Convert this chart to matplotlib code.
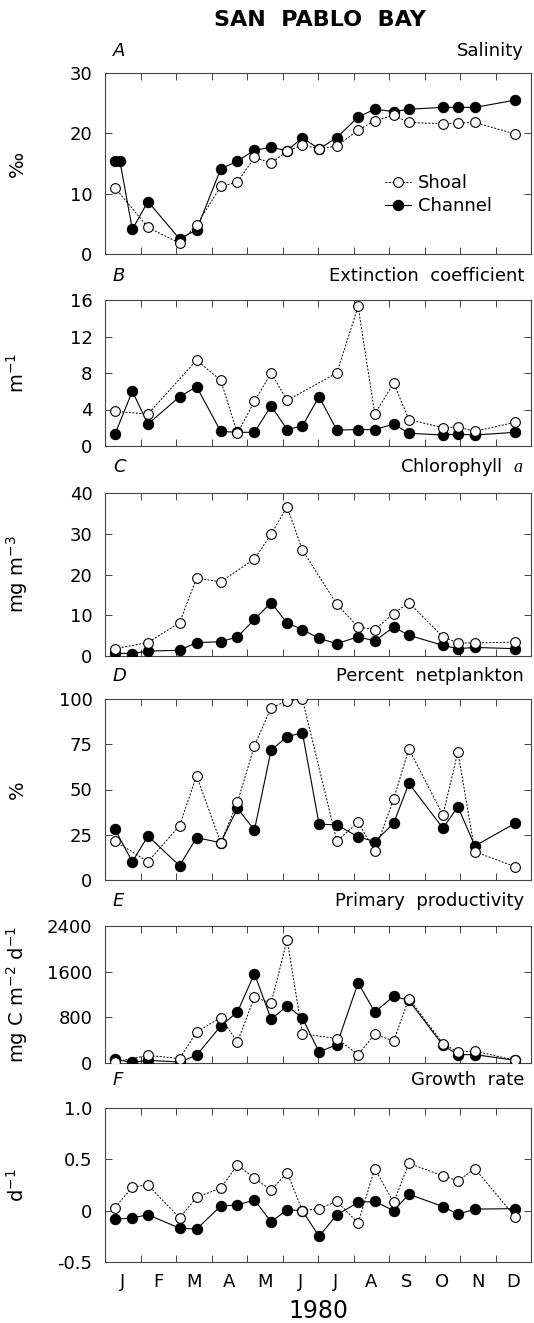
import numpy as np
import matplotlib
matplotlib.use("Agg")
import matplotlib.pyplot as plt
from matplotlib import rcParams

rcParams["font.family"] = ["DejaVu Sans"]
rcParams["mathtext.fontset"] = "custom"
rcParams["mathtext.rm"] = "DejaVu Sans"
rcParams["mathtext.it"] = "Liberation Serif:italic"
rcParams["mathtext.default"] = "regular"

nan = np.nan

# sampling dates, months since 1 Jan 1980
dates = [0.28, 0.42, 0.77, 1.21, 2.10, 2.58, 3.26, 3.73, 4.21, 4.68, 5.13,
         5.56, 6.03, 6.53, 7.13, 7.60, 8.13, 8.56, 9.52, 9.94, 10.42, 11.55]

salinity_shoal = [11.0, nan, nan, 4.4, 1.8, 4.8, 11.2, 11.9, 16.0, 15.1, 17.0,
                  18.1, 17.4, 17.9, 20.5, 22.1, 23.0, 21.8, 21.6, 21.7, 21.8, 19.9]
salinity_channel = [15.4, 15.4, 4.1, 8.7, 2.5, 4.0, 14.1, 15.4, 17.2, 17.7, 17.1,
                    19.3, 17.4, 19.3, 22.7, 24.0, 23.6, 24.0, 24.3, 24.3, 24.3, 25.5]

extinction_shoal = [3.8, nan, nan, 3.5, nan, 9.4, 7.2, 1.4, 4.9, 8.0, 5.0,
                    nan, nan, 8.0, 15.3, 3.5, 6.9, 2.9, 2.0, 2.1, 1.6, 2.6]
extinction_channel = [1.3, nan, 6.0, 2.4, 5.4, 6.5, 1.6, 1.5, 1.5, 4.4, 1.8,
                      2.2, 5.4, 1.75, 1.8, 1.8, 2.4, 1.4, 1.2, 1.3, 1.2, 1.5]

chl_shoal = [1.8, nan, nan, 3.3, 8.2, 19.1, 18.2, nan, 23.8, 29.9, 36.6,
             26.0, nan, 12.7, 7.1, 6.5, 10.4, 13.1, 4.7, 3.2, 3.2, 3.4]
chl_channel = [0.7, nan, 0.6, 1.2, 1.4, 3.3, 3.5, 4.7, 9.0, 13.1, 8.1,
               6.5, 4.3, 3.05, 4.7, 3.7, 7.1, 5.1, 2.6, 1.8, 2.1, 1.8]

netplankton_shoal = [21.5, nan, nan, 10.1, 30.0, 57.6, 20.6, 42.9, 74.2, 95.2, 98.9,
                     100.0, nan, 21.5, 31.9, 16.0, 44.6, 72.4, 35.9, 70.9, 15.6, 7.4]
netplankton_channel = [28.0, nan, 10.1, 24.3, 7.9, 23.4, 20.6, 39.6, 27.6, 71.8, 79.2,
                       81.4, 30.9, 30.4, 23.9, 21.2, 31.3, 53.4, 28.6, 40.5, 18.8, 31.3]

productivity_shoal = [18, nan, nan, 135, 77, 543, 795, 368, 1156, 1045, 2162,
                      515, nan, 427, 147, 503, 385, 1128, 340, 193, 210, 47]
productivity_channel = [65, nan, 10, 47, 18, 135, 648, 893, 1566, 766, 1000,
                        789, 193, 322, 1402, 893, 1168, 1098, 310, 147, 147, 47]

growth_shoal = [0.03, nan, 0.23, 0.25, -0.07, 0.13, 0.22, 0.445, 0.315, 0.20, 0.37,
                0.0, 0.02, 0.09, -0.12, 0.41, 0.08, 0.46, 0.34, 0.29, 0.41, -0.06]
growth_channel = [-0.085, nan, -0.07, -0.04, -0.17, -0.18, 0.045, 0.055, 0.105, -0.11, 0.01,
                  0.0, -0.25, -0.04, 0.08, 0.09, 0.0, 0.16, 0.04, -0.035, 0.015, 0.02]

months = ["J", "F", "M", "A", "M", "J", "J", "A", "S", "O", "N", "D"]

panels = [
    ("A", "Salinity", "‰", (0, 30), [0, 10, 20, 30], ["0", "10", "20", "30"],
     salinity_shoal, salinity_channel),
    ("B", "Extinction  coefficient", "m$^{-1}$", (0, 16), [0, 4, 8, 12, 16],
     ["0", "4", "8", "12", "16"], extinction_shoal, extinction_channel),
    ("C", "Chlorophyll  $\\it{a}$", "mg m$^{-3}$", (0, 40), [0, 10, 20, 30, 40],
     ["0", "10", "20", "30", "40"], chl_shoal, chl_channel),
    ("D", "Percent  netplankton", "%", (0, 100), [0, 25, 50, 75, 100],
     ["0", "25", "50", "75", "100"], netplankton_shoal, netplankton_channel),
    ("E", "Primary  productivity", "mg C m$^{-2}$ d$^{-1}$", (0, 2400),
     [0, 800, 1600, 2400], ["0", "800", "1600", "2400"],
     productivity_shoal, productivity_channel),
    ("F", "Growth  rate", "d$^{-1}$", (-0.5, 1.0), [-0.5, 0, 0.5, 1.0],
     ["-0.5", "0", "0.5", "1.0"], growth_shoal, growth_channel),
]

# pixel layout (top, bottom) of each panel and y of its header line
W, H = 534, 1323
boxes = [(73, 254), (300, 446), (493, 656), (699, 880), (926, 1063), (1108, 1262)]
header_y = [51, 276, 467, 676, 901, 1080]
left, right = 105, 531

fig = plt.figure(figsize=(W / 100, H / 100), dpi=100)
frame = "#444444"


def fx(x):
    return x / W


def fy(y):
    return 1 - y / H


def draw(ax, vals, **kw):
    x = np.array(dates)
    y = np.array(vals, dtype=float)
    ok = ~np.isnan(y)
    return ax.plot(x[ok], y[ok], **kw)[0]


for i, (letter, name, unit, ylim, yt, ytl, shoal, channel) in enumerate(panels):
    top, bot = boxes[i]
    ax = fig.add_axes([fx(left), fy(bot), fx(right - left), (bot - top) / H])

    hc = draw(ax, channel, color="black", lw=0.8, ls="-", marker="o", ms=7.2,
              mfc="black", mec="black", zorder=3, label="Channel")
    hs = draw(ax, shoal, color="black", lw=0.7, ls=(0, (2, 1.6)), marker="o", ms=7,
              mfc="white", mec="black", mew=0.8, zorder=4, label="Shoal")

    ax.set_xlim(0, 12)
    ax.set_ylim(*ylim)
    ax.set_yticks(yt)
    ax.set_yticklabels(ytl)
    ax.set_xticks(range(1, 12))
    ax.set_xticklabels([])
    ax.tick_params(which="major", direction="in", length=5, width=0.7, color=frame,
                   top=True, right=True, labelsize=13, pad=9)
    for s in ax.spines.values():
        s.set_color(frame)
        s.set_linewidth(0.8)

    if i == len(panels) - 1:
        ax.set_xticks([m + 0.5 for m in range(12)], minor=True)
        ax.set_xticklabels(months, minor=True)
        ax.tick_params(which="minor", length=0, labelsize=13, pad=8)

    fig.text(fx(113), fy(header_y[i]), letter, fontsize=13, style="italic",
             ha="left", va="center")
    fig.text(fx(524), fy(header_y[i]), name, fontsize=13, ha="right", va="center")
    fig.text(fx(17), fy((top + bot) / 2), unit, fontsize=14, rotation=90,
             ha="center", va="center")

    if i == 0:
        ax.legend([hs, hc], ["Shoal", "Channel"], loc="upper left",
                  bbox_to_anchor=(0.62, 0.53), frameon=False, fontsize=13,
                  handlelength=1.4, handletextpad=0.4, labelspacing=0.25)

fig.text(fx(320), fy(20), "SAN  PABLO  BAY", fontsize=16, fontweight="bold",
         ha="center", va="center")
fig.text(fx(318), fy(1311), "1980", fontsize=17, ha="center", va="center")

fig.savefig("out.png", dpi=100)
